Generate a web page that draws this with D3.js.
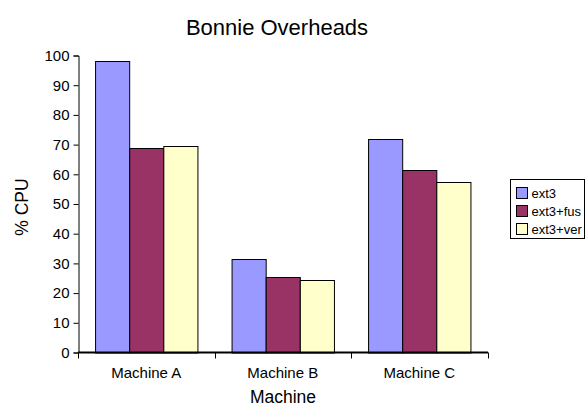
<!DOCTYPE html>
<html>
<head>
<meta charset="utf-8">
<script src="https://cdn.jsdelivr.net/npm/d3@7"></script>
<style>
  body { margin: 0; background: #fff; }
  text { font-family: "Liberation Sans", Arial, sans-serif; fill: #000; }
  .chart-title { font-size: 22px; }
  .axis-title { font-size: 17.5px; }
  .tick-label { font-size: 15px; }
  .legend-label { font-size: 13px; }
</style>
</head>
<body>
<div id="chart"></div>
<script>
const machines = ["Machine A", "Machine B", "Machine C"];
const seriesNames = ["ext3", "ext3+fus", "ext3+ver"];
const ext3 = [98, 31.5, 72];
const ext3Fus = [68.8, 25.4, 61.5];
const ext3Ver = [69.6, 24.5, 57.5];
const yTicks = [0, 10, 20, 30, 40, 50, 60, 70, 80, 90, 100];
const seriesColors = ["#9999ff", "#993366", "#ffffcc"];

function drawChart() {
    const width = 588;
    const height = 408;

    const svg = d3.select("#chart")
        .append("svg")
        .attr("width", width)
        .attr("height", height);

    const x = d3.scaleBand()
        .domain(machines)
        .range([78, 487.5]);

    const x1 = d3.scaleBand()
        .domain(seriesNames)
        .range([0, x.bandwidth()])
        .paddingOuter(0.5);

    const y = d3.scaleLinear()
        .domain([0, 100])
        .range([352.5, 55.5]);

    const rows = machines.map((m, i) => ({
        machine: m,
        values: [ext3[i], ext3Fus[i], ext3Ver[i]]
    }));

    // bars
    const groups = svg.selectAll(".group")
        .data(rows)
        .enter().append("g")
        .attr("transform", d => `translate(${x(d.machine)},0)`);

    groups.selectAll("rect")
        .data(d => d.values.map((v, j) => ({ key: seriesNames[j], value: v, color: seriesColors[j] })))
        .enter().append("rect")
        .attr("x", d => x1(d.key) + 0.5)
        .attr("y", d => Math.round(y(d.value)) + 0.5)
        .attr("width", x1.bandwidth())
        .attr("height", d => y(0) - Math.round(y(d.value)))
        .attr("fill", d => d.color)
        .attr("stroke", "#000")
        .attr("stroke-width", 1);

    // y axis
    const yAxis = svg.append("g")
        .attr("transform", "translate(78.5,0)")
        .call(d3.axisLeft(y).tickValues(yTicks).tickSize(5).tickPadding(4));
    yAxis.select(".domain").attr("stroke", "#000");
    yAxis.selectAll("text").attr("class", "tick-label");

    // x axis
    const xAxis = svg.append("g")
        .attr("transform", "translate(0,352.5)");
    xAxis.append("line")
        .attr("x1", 78).attr("x2", 488)
        .attr("stroke", "#000").attr("stroke-width", 2);
    xAxis.selectAll(".xtick")
        .data(machines.concat(["end"]))
        .enter().append("line")
        .attr("x1", (d, i) => Math.round(i < machines.length ? x(d) : x.range()[1]) + 0.5)
        .attr("x2", (d, i) => Math.round(i < machines.length ? x(d) : x.range()[1]) + 0.5)
        .attr("y1", 0).attr("y2", 6)
        .attr("stroke", "#000");
    xAxis.selectAll(".xlabel")
        .data(machines)
        .enter().append("text")
        .attr("class", "tick-label")
        .attr("x", d => x(d) + x.bandwidth() / 2)
        .attr("y", 25.5)
        .attr("text-anchor", "middle")
        .text(d => d);

    // titles
    svg.append("text")
        .attr("class", "chart-title")
        .attr("x", 277)
        .attr("y", 35)
        .attr("text-anchor", "middle")
        .text("Bonnie Overheads");

    svg.append("text")
        .attr("class", "axis-title")
        .attr("x", 283)
        .attr("y", 403)
        .attr("text-anchor", "middle")
        .text("Machine");

    svg.append("text")
        .attr("class", "axis-title")
        .attr("transform", "translate(28,207) rotate(-90)")
        .attr("text-anchor", "middle")
        .text("% CPU");

    // legend
    const legend = svg.append("g")
        .attr("transform", "translate(510.5,179.5)");
    legend.append("rect")
        .attr("width", 74)
        .attr("height", 59)
        .attr("fill", "#fff")
        .attr("stroke", "#000");

    const items = legend.selectAll(".legend-item")
        .data(seriesNames)
        .enter().append("g")
        .attr("transform", (d, i) => `translate(0,${8 + i * 18})`);
    items.append("rect")
        .attr("x", 6)
        .attr("width", 11)
        .attr("height", 11)
        .attr("fill", (d, i) => seriesColors[i])
        .attr("stroke", "#000");
    items.append("text")
        .attr("class", "legend-label")
        .attr("x", 21)
        .attr("y", 10.5)
        .text(d => d);
}

drawChart();
</script>
</body>
</html>
